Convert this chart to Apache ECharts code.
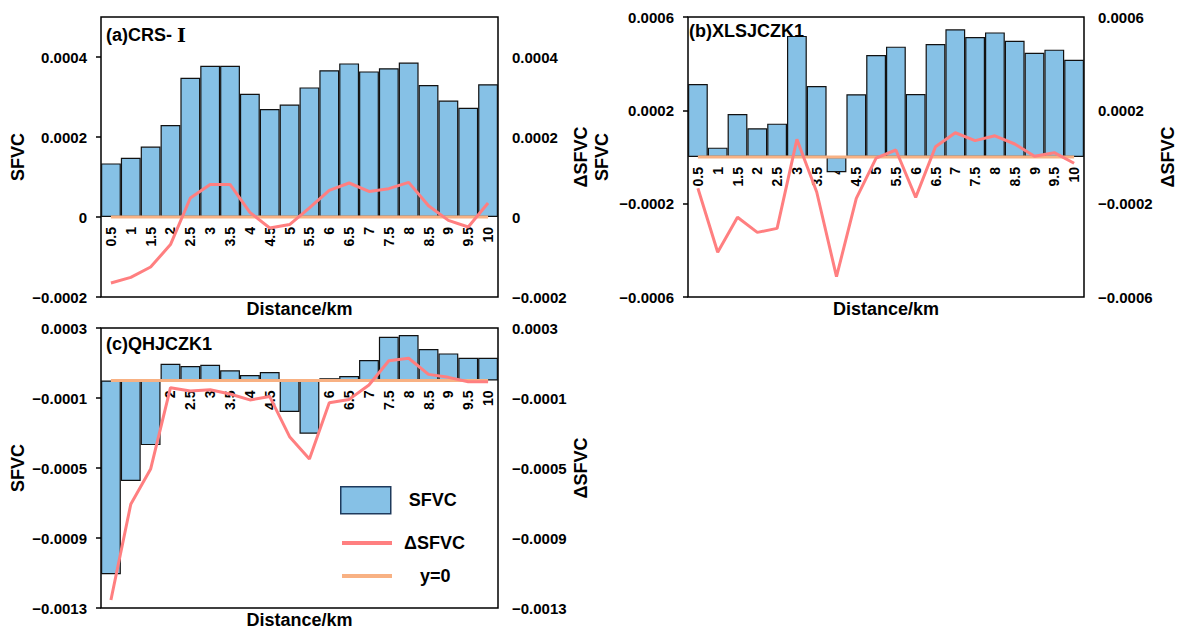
<!DOCTYPE html>
<html>
<head>
<meta charset="utf-8">
<script src="https://cdn.jsdelivr.net/npm/echarts@6/dist/echarts.min.js"></script>
<style>
  html, body { margin: 0; padding: 0; background: #ffffff; }
  #chart { width: 1178px; height: 632px; }
</style>
</head>
<body>
<div id="chart"></div>
<script>
// Distance along each profile (km)
const distances = ['0.5', '1', '1.5', '2', '2.5', '3', '3.5', '4', '4.5', '5',
                   '5.5', '6', '6.5', '7', '7.5', '8', '8.5', '9', '9.5', '10'];

// (a) CRS-Ⅰ
const sfvcA = [0.000134, 0.000148, 0.000176, 0.000230, 0.000348, 0.000378, 0.000378, 0.000308, 0.000270, 0.000281,
               0.000324, 0.000367, 0.000384, 0.000364, 0.000372, 0.000386, 0.000330, 0.000291, 0.000273, 0.000332];
const dSfvcA = [-0.000165, -0.000151, -0.000125, -0.000069, 0.0000475, 0.0000815, 0.0000815, 0.0000115, -0.0000275, -0.000019,
                0.000023, 0.0000665, 0.000085, 0.000064, 0.0000708, 0.0000865, 0.000028, -0.0000085, -0.000025, 0.000035];

// (b) XLSJCZK1
const sfvcB = [0.000313, 0.000040, 0.000184, 0.000123, 0.000143, 0.000519, 0.000304, -0.0000656, 0.000269, 0.000437,
               0.000473, 0.000270, 0.000484, 0.000547, 0.000514, 0.000534, 0.000498, 0.000447, 0.000460, 0.000417];
const dSfvcB = [-0.000134, -0.000408, -0.000258, -0.000323, -0.000306, 0.0000757, -0.000150, -0.000513, -0.000177, -0.000005,
                0.000030, -0.000173, 0.000044, 0.000104, 0.000070, 0.000091, 0.0000557, 0.000003, 0.0000185, -0.000027];

// (c) QHJCZK1
const sfvcC = [-0.001107, -0.000574, -0.000369, 0.000096, 0.000083, 0.000090, 0.000058, 0.000031, 0.000049, -0.000180,
               -0.000304, 0.000013, 0.000026, 0.000117, 0.000250, 0.000260, 0.000180, 0.000155, 0.000130, 0.000130];
const dSfvcC = [-0.001254, -0.000707, -0.000506, -0.000041, -0.000060, -0.0000526, -0.000077, -0.000111, -0.000092, -0.000321,
                -0.000449, -0.000127, -0.000108, -0.000026, 0.000113, 0.000127, 0.000035, 0.000018, -0.000007, -0.000007];

// Reference line y = 0
const zeroLine = [0, 0, 0, 0, 0, 0, 0, 0, 0, 0, 0, 0, 0, 0, 0, 0, 0, 0, 0, 0];

// Value-axis ranges and labelled ticks
const rangeA = [-0.0002, 0.0005];
const ticksA = [-0.0002, 0, 0.0002, 0.0004];
const rangeB = [-0.0006, 0.0006];
const ticksB = [-0.0006, -0.0002, 0.0002, 0.0006];
const rangeC = [-0.0013, 0.0003];
const ticksC = [-0.0013, -0.0009, -0.0005, -0.0001, 0.0003];

// Panel headings; {r|…} holds the roman numeral in a serif face
const panelTitles = ['(a)CRS- {r|\u2160}', '(b)XLSJCZK1', '(c)QHJCZK1'];

const FONT = '"Liberation Sans", Arial, "DejaVu Sans", sans-serif';
const SERIF = '"DejaVu Serif", "Liberation Serif", serif';
const BAR_COLOR = '#86c1e6';
const DELTA_COLOR = '#ff7f80';
const ZERO_COLOR = '#f8b183';

function fmt(v) {
  if (Math.abs(v) < 1e-12) return '0';
  return (v < 0 ? '\u2212' : '') + Math.abs(v).toFixed(4);
}

// Lift the distance labels from the grid's bottom edge up to the value-axis zero
function zeroOffset(range, height) {
  return -height * (0 - range[0]) / (range[1] - range[0]);
}

const panels = [
  { grid: { left: 101, top: 17, width: 397, height: 280 }, range: rangeA, ticks: ticksA,
    sfvc: sfvcA, delta: dSfvcA, gapL: 74, gapR: 74, title: { left: 106, top: 25 } },
  { grid: { left: 688, top: 17, width: 396, height: 280 }, range: rangeB, ticks: ticksB,
    sfvc: sfvcB, delta: dSfvcB, gapL: 77, gapR: 75, title: { left: 689, top: 22 } },
  { grid: { left: 101, top: 328, width: 397, height: 280 }, range: rangeC, ticks: ticksC,
    sfvc: sfvcC, delta: dSfvcC, gapL: 74, gapR: 74, title: { left: 106, top: 335 } }
];

const grid = [], xAxis = [], yAxis = [], series = [], title = [];

function yAxisFor(gi, p, side) {
  return {
    type: 'value', gridIndex: gi, position: side,
    min: p.range[0], max: p.range[1],
    name: side === 'left' ? 'SFVC' : '\u0394SFVC',
    nameLocation: 'middle',
    nameGap: side === 'left' ? p.gapL : p.gapR,
    nameTextStyle: { fontSize: 18, fontWeight: 'bold', color: '#000', fontFamily: FONT },
    axisLine: { show: false },
    splitLine: { show: false },
    axisTick: { show: side === 'left', length: 5, lineStyle: { color: '#000', width: 1.5 }, customValues: p.ticks },
    axisLabel: { customValues: p.ticks, formatter: fmt, margin: 14, fontSize: 15, fontWeight: 'bold',
                 color: '#000', fontFamily: FONT }
  };
}

panels.forEach((p, i) => {
  grid.push(Object.assign({ show: true, borderColor: '#000', borderWidth: 1.5,
                            backgroundColor: 'transparent', outerBoundsMode: 'none' }, p.grid));
  title.push({ text: panelTitles[i], left: p.title.left, top: p.title.top, padding: 0,
               textStyle: { fontSize: 18, fontWeight: 'bold', color: '#000', fontFamily: FONT,
                            rich: { r: { fontSize: 19, fontWeight: 'bold', color: '#000', fontFamily: SERIF } } } });
  // category axis placed on the zero level of the value axis
  xAxis.push({
    type: 'category', gridIndex: i, data: distances, position: 'bottom',
    offset: zeroOffset(p.range, p.grid.height),
    axisLine: { show: false, onZero: false },
    axisTick: { show: false },
    axisLabel: { interval: 0, rotate: 90, margin: 10, fontSize: 14, fontWeight: 'bold',
                 color: '#000', fontFamily: FONT }
  });
  // bottom axis carrying the distance title
  xAxis.push({
    type: 'category', gridIndex: i, data: distances, position: 'bottom',
    axisLine: { show: false, onZero: false },
    axisTick: { show: false },
    axisLabel: { show: false },
    name: 'Distance/km', nameLocation: 'middle', nameGap: 3,
    nameTextStyle: { fontSize: 18, fontWeight: 'bold', color: '#000', fontFamily: FONT }
  });
  yAxis.push(yAxisFor(i, p, 'left'));
  yAxis.push(yAxisFor(i, p, 'right'));

  series.push({
    type: 'bar', name: 'SFVC', xAxisIndex: 2 * i, yAxisIndex: 2 * i, data: p.sfvc,
    barCategoryGap: '0%', color: BAR_COLOR,
    itemStyle: { color: BAR_COLOR, borderColor: '#111', borderWidth: 1.2 }
  });
  series.push({
    type: 'line', name: 'y=0', xAxisIndex: 2 * i, yAxisIndex: 2 * i, data: zeroLine,
    symbol: 'none', color: ZERO_COLOR, lineStyle: { color: ZERO_COLOR, width: 3 }
  });
  series.push({
    type: 'line', name: '\u0394SFVC', xAxisIndex: 2 * i, yAxisIndex: 2 * i + 1, data: p.delta,
    symbol: 'none', color: DELTA_COLOR, lineStyle: { color: DELTA_COLOR, width: 3 }
  });
});

const legendText = { fontSize: 18, fontWeight: 'bold', color: '#000', fontFamily: FONT };
const lineKey = { color: 'rgba(0,0,0,0)', borderWidth: 0 };
const legend = [
  { data: ['SFVC'], left: 340, top: 486, itemWidth: 50, itemHeight: 27, icon: 'rect', padding: 0,
    itemStyle: { borderColor: '#1e3a5c', borderWidth: 1.5 },
    textStyle: Object.assign({ padding: [0, 0, 0, 13] }, legendText) },
  { data: ['\u0394SFVC'], left: 340, top: 534, itemWidth: 50, itemHeight: 14, padding: 0,
    itemStyle: lineKey, lineStyle: { width: 4 },
    textStyle: Object.assign({ padding: [0, 0, 0, 7] }, legendText) },
  { data: ['y=0'], left: 340, top: 567, itemWidth: 50, itemHeight: 14, padding: 0,
    itemStyle: lineKey, lineStyle: { width: 4 },
    textStyle: Object.assign({ padding: [0, 0, 0, 23] }, legendText) }
];

const chart = echarts.init(document.getElementById('chart'), null, { renderer: 'svg' });
chart.setOption({
  animation: false,
  backgroundColor: '#ffffff',
  title, grid, xAxis, yAxis, series, legend
});
</script>
</body>
</html>
